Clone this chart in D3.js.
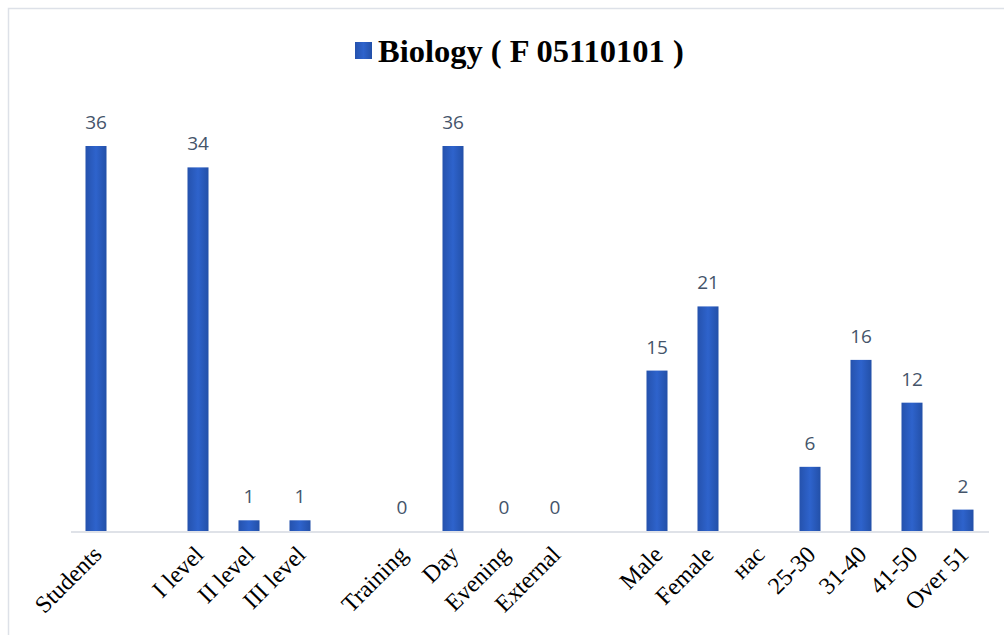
<!DOCTYPE html>
<html>
<head>
<meta charset="utf-8">
<script src="https://cdn.jsdelivr.net/npm/d3@7"></script>
<style>
  html, body { margin: 0; padding: 0; background: #ffffff; }
  svg { display: block; }
</style>
</head>
<body>
<svg id="chart" width="1004" height="635"></svg>
<script>
// Category slots along the axis (empty strings are spacer slots)
const categories = ["Students", "", "I level", "II level", "III level", "", "Training", "Day", "Evening", "External", "", "Male", "Female", "нас", "25-30", "31-40", "41-50", "Over 51"];
// Counts per category (null = no bar and no label)
const values = [36, null, 34, 1, 1, null, 0, 36, 0, 0, null, 15, 21, null, 6, 16, 12, 2];
const seriesName = "Biology ( F 05110101 )";

const svg = d3.select("#chart");
const W = 1004, H = 635;
const baseY = 531;

// Outer frame
svg.append("path")
  .attr("d", `M8.5,${H} V8.5 H${W}`)
  .attr("fill", "none")
  .attr("stroke", "#dde1e8")
  .attr("stroke-width", 1.5);

// Bar gradient
const defs = svg.append("defs");
const grad = defs.append("linearGradient")
  .attr("id", "barGrad").attr("x1", 0).attr("y1", 0).attr("x2", 1).attr("y2", 0);
grad.append("stop").attr("offset", "0%").attr("stop-color", "#2552ad");
grad.append("stop").attr("offset", "50%").attr("stop-color", "#2e63cc");
grad.append("stop").attr("offset", "100%").attr("stop-color", "#2350a8");

const idx = categories.map((_, i) => i);
const x = d3.scaleBand()
  .domain(idx)
  .range([70.5, 988.5])
  .paddingInner(0.588)
  .paddingOuter(0.294);

const y = d3.scaleLinear().domain([0, 36]).range([baseY, 146]);

// Bars
svg.append("g")
  .selectAll("rect")
  .data(idx.filter(i => values[i] !== null && values[i] > 0))
  .join("rect")
  .attr("x", i => x(i))
  .attr("y", i => y(values[i]))
  .attr("width", x.bandwidth())
  .attr("height", i => y(0) - y(values[i]))
  .attr("fill", "url(#barGrad)");

// Baseline
const axis = d3.axisBottom(x).tickSize(0).tickFormat("");
const axisG = svg.append("g")
  .attr("transform", `translate(0,${baseY + 0.5})`)
  .call(axis);
axisG.select(".domain").attr("stroke", "#d5d9e0").attr("stroke-width", 1.5);

// Category labels, rotated
svg.append("g")
  .selectAll("text")
  .data(idx.filter(i => categories[i] !== ""))
  .join("text")
  .attr("transform", i => `translate(${x(i) + x.bandwidth() / 2 + 7},${baseY + 25}) rotate(-45)`)
  .attr("text-anchor", "end")
  .attr("font-family", "'Liberation Serif', 'Times New Roman', serif")
  .attr("font-size", 24)
  .attr("fill", "#000")
  .text(i => categories[i]);

// Value labels
svg.append("g")
  .selectAll("text")
  .data(idx.filter(i => values[i] !== null))
  .join("text")
  .attr("x", i => x(i) + x.bandwidth() / 2)
  .attr("y", i => y(values[i]) - 17)
  .attr("text-anchor", "middle")
  .attr("font-family", "'Open Sans', 'Noto Sans', sans-serif")
  .attr("font-size", 19)
  .attr("fill", "#44546a")
  .text(i => values[i]);

// Title with legend swatch
const title = svg.append("g");
title.append("rect")
  .attr("x", 355).attr("y", 42).attr("width", 17).attr("height", 17)
  .attr("fill", "url(#barGrad)");
title.append("text")
  .attr("x", 378).attr("y", 62)
  .attr("font-family", "'Liberation Serif', 'Times New Roman', serif")
  .attr("font-weight", "bold")
  .attr("font-size", 32.5)
  .attr("fill", "#000")
  .text(seriesName);
</script>
</body>
</html>
